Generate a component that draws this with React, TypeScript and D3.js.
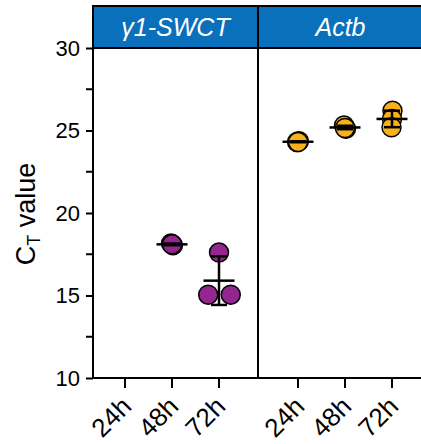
import React, { useEffect, useRef } from "react";
import * as d3 from "d3";

// chart data
const facets = ["γ1-SWCT", "Actb"];
const times = ["24h", "48h", "72h"];
const swctValues = [[], [18.15, 18.05, 18.1], [17.6, 15.05, 15.05]];
const actbValues = [[24.3, 24.35, 24.3], [25.3, 25.1, 25.15], [26.2, 25.7, 25.2]];
// horizontal jitter of the replicates, as a fraction of the category step
const swctJitter = [[], [-0.02, 0.02, 0], [0, -0.23, 0.25]];
const actbJitter = [[-0.02, 0.02, 0], [-0.02, 0.02, 0], [0.01, 0, -0.01]];
const yTicks = [10, 15, 20, 25, 30];
const yMinorTicks = [12.5, 17.5, 22.5, 27.5];

const colors = ["#93278f", "#f8b119"];
const headerBlue = "#0a70bc";
const font = "'Liberation Sans', Arial, Helvetica, sans-serif";

export default function App() {
  const ref = useRef<SVGSVGElement>(null);

  useEffect(() => {
    const svg = d3.select(ref.current);
    svg.selectAll("*").remove();

    const W = 421, H = 444;
    const margin = { top: 48, left: 93, bottom: 66 };
    const panelW = 165;
    const headerTop = 6;
    const plotH = H - margin.top - margin.bottom;

    const y = d3.scaleLinear().domain([10, 30]).range([margin.top + plotH, margin.top]);
    const fx = d3.scaleBand().domain(facets).range([margin.left, margin.left + panelW * 2]);
    const innerPad = [32, 40];

    const series = [swctValues, actbValues];
    const jitters = [swctJitter, actbJitter];

    facets.forEach((f, fi) => {
      const x0 = fx(f)!;
      const x = d3.scalePoint().domain(times).range([x0 + innerPad[fi], x0 + innerPad[fi] + 94]);
      const step = x.step();
      const g = svg.append("g");

      // x axis ticks and labels
      times.forEach((t) => {
        g.append("line")
          .attr("x1", x(t)!).attr("x2", x(t)!)
          .attr("y1", y(10)).attr("y2", y(10) + 10)
          .attr("stroke", "#000").attr("stroke-width", 2);
        g.append("text")
          .attr("transform", `translate(${x(t)! + 8},${y(10) + 30}) rotate(-45)`)
          .attr("text-anchor", "end")
          .attr("font-family", font)
          .attr("font-size", 26)
          .text(t);
      });

      // replicate points
      series[fi].forEach((vals, ti) => {
        const cx = x(times[ti])!;
        vals.forEach((v, k) => {
          g.append("circle")
            .attr("cx", cx + jitters[fi][ti][k] * step)
            .attr("cy", y(v))
            .attr("r", 9.5)
            .attr("fill", colors[fi])
            .attr("stroke", "#000")
            .attr("stroke-width", 1.5);
        });
      });

      // mean +/- SD
      series[fi].forEach((vals, ti) => {
        if (!vals.length) return;
        const cx = x(times[ti])!;
        const m = d3.mean(vals)!;
        const sd = d3.deviation(vals) || 0;
        const lines = [
          [cx - 15.5, y(m), cx + 15.5, y(m)],
          [cx, y(m - sd), cx, y(m + sd)],
          [cx - 8, y(m - sd), cx + 8, y(m - sd)],
          [cx - 8, y(m + sd), cx + 8, y(m + sd)],
        ];
        lines.forEach((l) => {
          g.append("line")
            .attr("x1", l[0]).attr("y1", l[1]).attr("x2", l[2]).attr("y2", l[3])
            .attr("stroke", "#000").attr("stroke-width", 2.5);
        });
      });

      // strip header
      g.append("rect")
        .attr("x", x0).attr("y", headerTop)
        .attr("width", panelW).attr("height", margin.top - headerTop)
        .attr("fill", headerBlue)
        .attr("stroke", "#000").attr("stroke-width", 2);
      g.append("text")
        .attr("x", x0 + panelW / 2)
        .attr("y", (headerTop + margin.top) / 2 + 9)
        .attr("text-anchor", "middle")
        .attr("font-family", font)
        .attr("font-style", "italic")
        .attr("font-size", 25)
        .attr("fill", "#fff")
        .text(f);

      // panel border (left side)
      g.append("line")
        .attr("x1", x0).attr("x2", x0)
        .attr("y1", headerTop).attr("y2", y(10))
        .attr("stroke", "#000").attr("stroke-width", 2);
    });

    // x baseline
    svg.append("line")
      .attr("x1", margin.left).attr("x2", W)
      .attr("y1", y(10)).attr("y2", y(10))
      .attr("stroke", "#000").attr("stroke-width", 2);

    // y axis
    const yAxis = svg.append("g")
      .attr("transform", `translate(${margin.left},0)`)
      .call(d3.axisLeft(y).tickValues(yTicks).tickSize(7).tickPadding(6));
    yAxis.select(".domain").remove();
    yAxis.selectAll("line").attr("stroke-width", 2);
    yAxis.selectAll("text").attr("font-size", 22).attr("font-family", font).attr("fill", "#000");
    svg.append("g")
      .selectAll("line")
      .data(yMinorTicks)
      .enter()
      .append("line")
      .attr("x1", margin.left - 7).attr("x2", margin.left)
      .attr("y1", (d) => y(d)).attr("y2", (d) => y(d))
      .attr("stroke", "#000").attr("stroke-width", 2);

    // y title
    const title = svg.append("text")
      .attr("transform", `translate(35,${y(20) + 1}) rotate(-90)`)
      .attr("text-anchor", "middle")
      .attr("font-family", font)
      .attr("font-size", 27);
    title.append("tspan").text("C");
    title.append("tspan").attr("font-size", 18).attr("dy", 5).text("T");
    title.append("tspan").attr("dy", -5).text(" value");
  }, []);

  return (
    <svg
      ref={ref}
      width={421}
      height={444}
      style={{ position: "absolute", left: 0, top: 0, background: "#fff" }}
    />
  );
}
